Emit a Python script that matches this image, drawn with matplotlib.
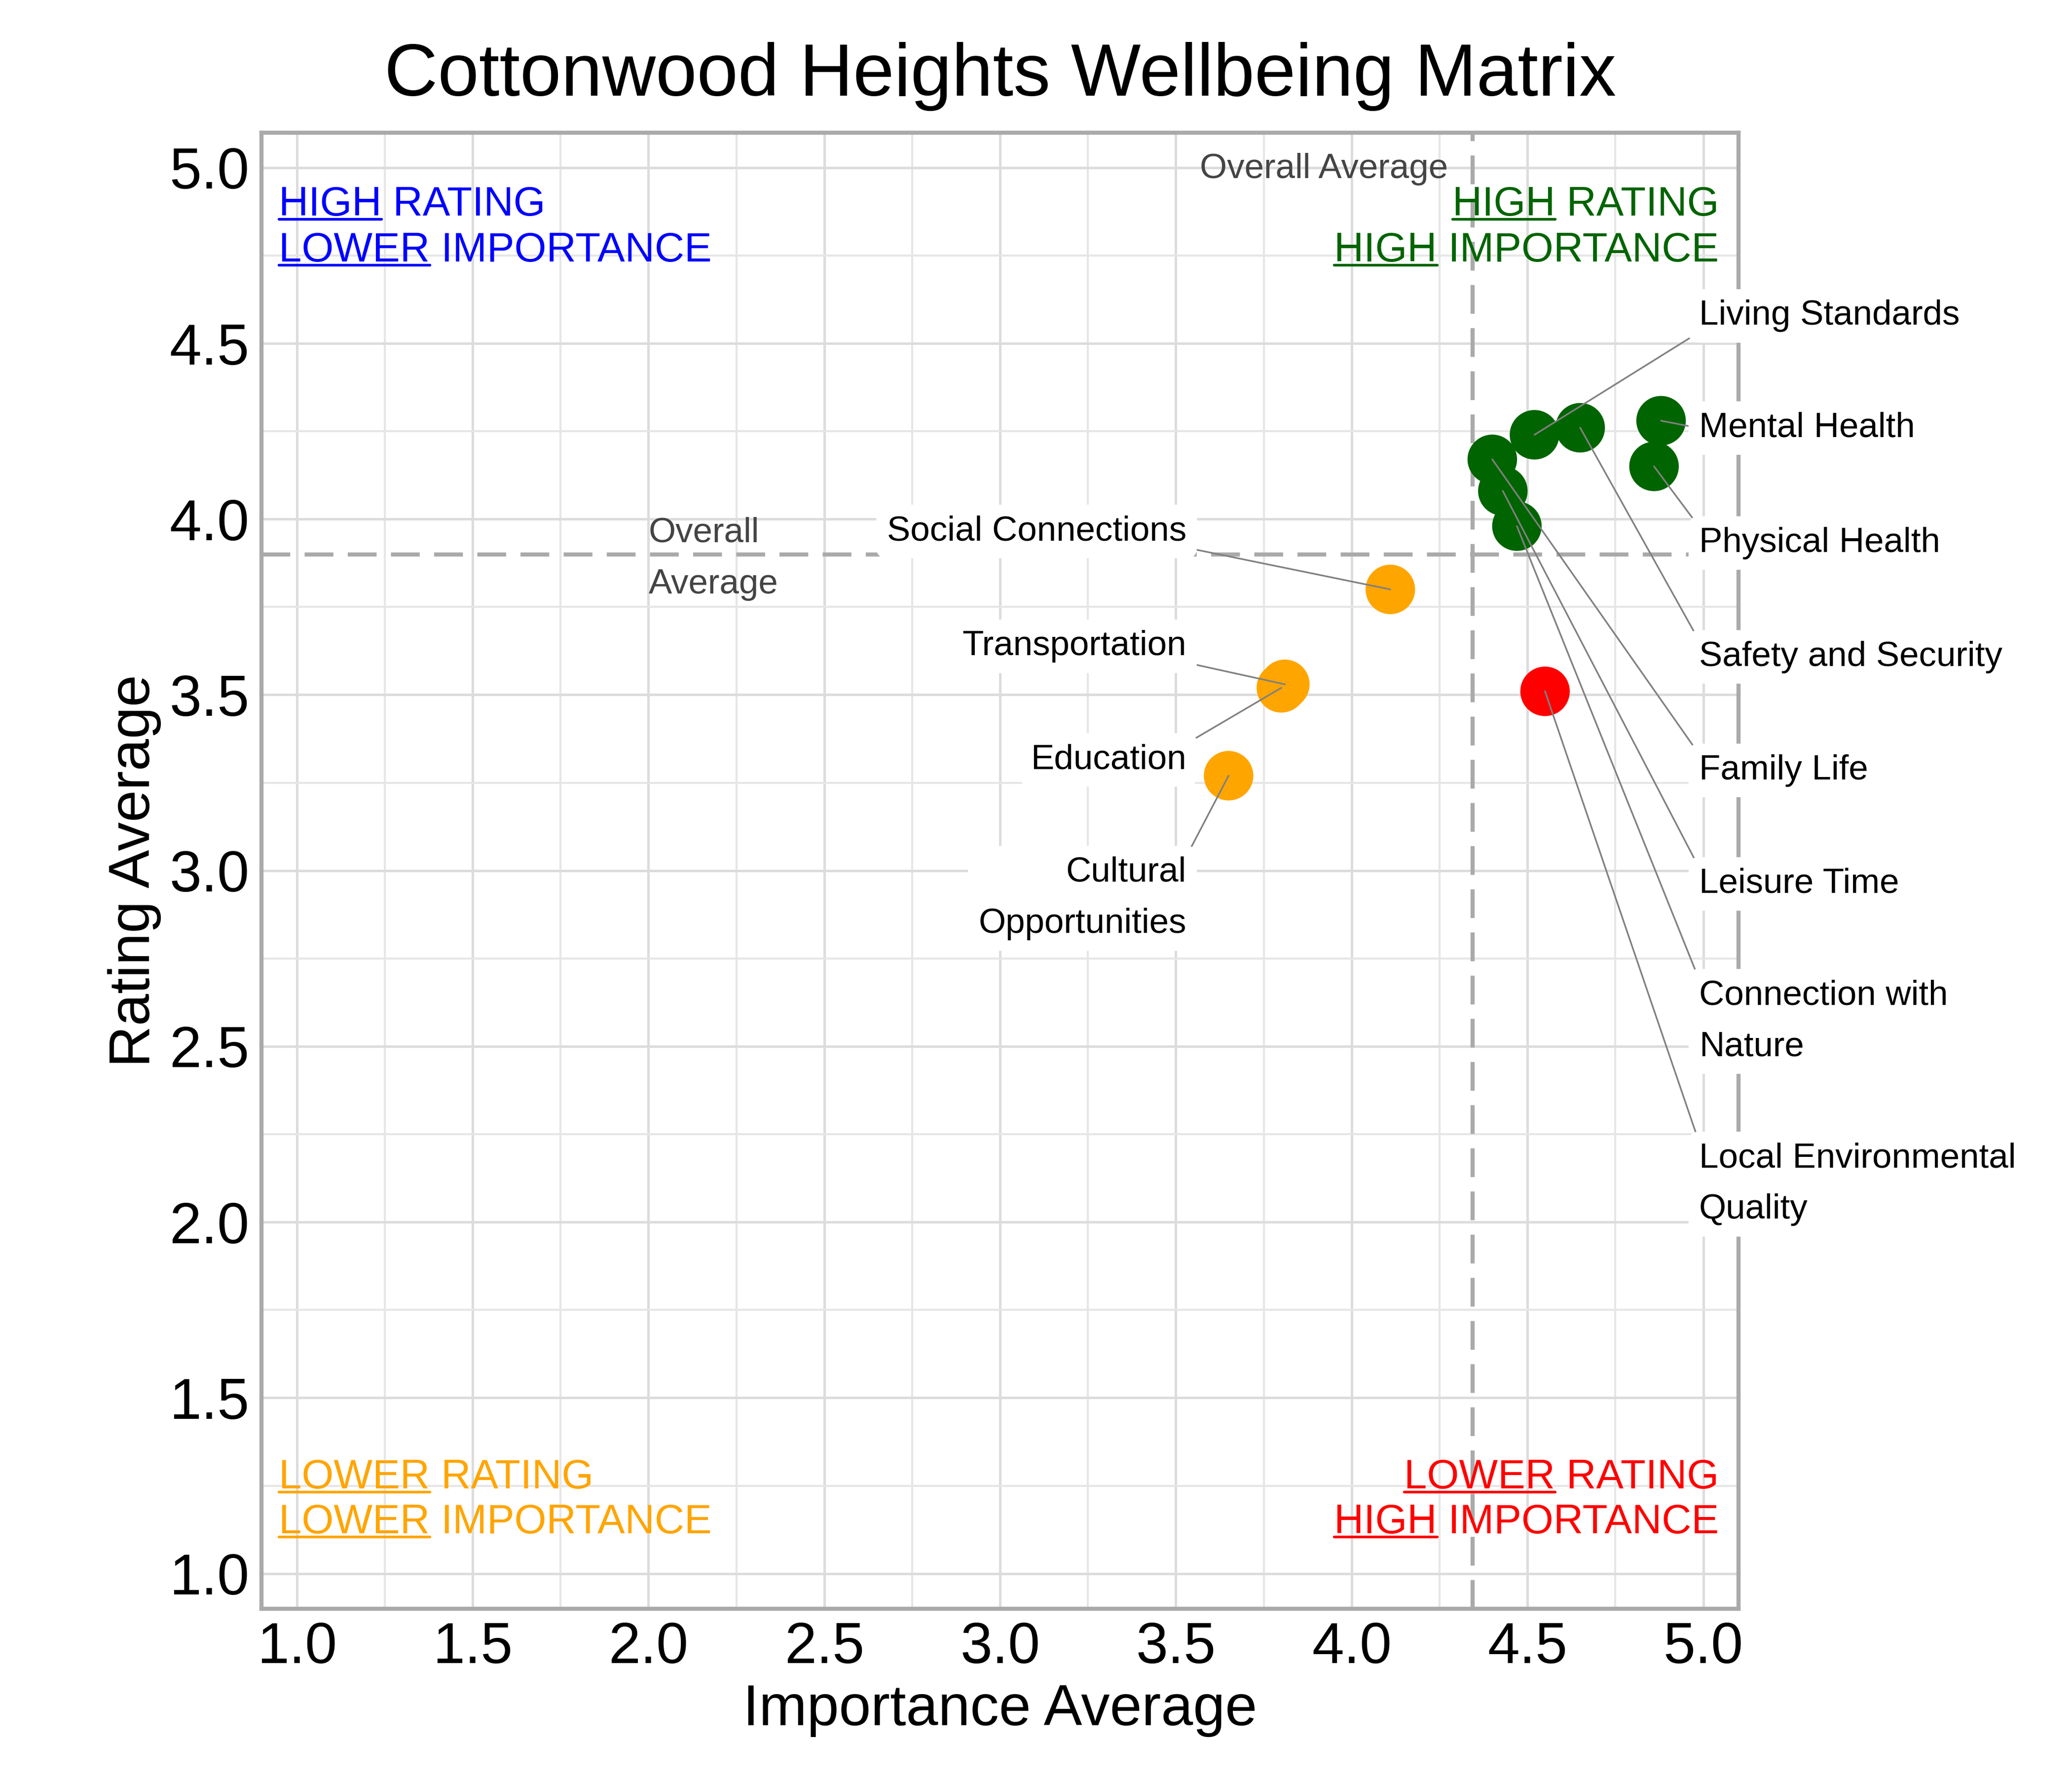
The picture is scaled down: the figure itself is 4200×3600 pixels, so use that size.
import matplotlib
matplotlib.use('Agg')
import matplotlib.pyplot as plt
from matplotlib.lines import Line2D
import numpy as np

plt.rcParams['font.family'] = ['Liberation Sans', 'DejaVu Sans']

# ---------------- data ----------------
categories = ['Living Standards', 'Safety and Security', 'Mental Health', 'Physical Health',
              'Family Life', 'Leisure Time', 'Connection with Nature',
              'Local Environmental Quality', 'Social Connections', 'Transportation',
              'Education', 'Cultural Opportunities']
label_text = ['Living Standards', 'Safety and Security', 'Mental Health', 'Physical Health',
              'Family Life', 'Leisure Time', 'Connection with\nNature',
              'Local Environmental\nQuality', 'Social Connections', 'Transportation',
              'Education', 'Cultural\nOpportunities']
importance = [4.52, 4.65, 4.88, 4.86, 4.40, 4.43, 4.47, 4.55, 4.11, 3.81, 3.80, 3.65]
rating = [4.24, 4.26, 4.28, 4.15, 4.17, 4.08, 3.98, 3.51, 3.80, 3.53, 3.52, 3.27]

# label layout (repelled positions)
label_side = ['R', 'R', 'R', 'R', 'R', 'R', 'R', 'R', 'L', 'L', 'L', 'L']
label_y = [4.578, 3.608, 4.259, 3.932, 3.285, 2.962, 2.571, 2.108, 3.965, 3.638, 3.315, 2.921]

tick_vals = [1.0, 1.5, 2.0, 2.5, 3.0, 3.5, 4.0, 4.5, 5.0]

quad_colors = {'HH': '#006400', 'LH': '#FF0000', 'LL': '#FFA500', 'HL': '#0000FF'}

avg_imp = float(np.mean(importance))
avg_rat = float(np.mean(rating))

colors = []
for imp, rat in zip(importance, rating):
    key = ('H' if rat >= avg_rat else 'L') + ('H' if imp >= avg_imp else 'L')
    colors.append(quad_colors[key])

# ---------------- figure ----------------
fig = plt.figure(figsize=(14, 12), dpi=300)
ax = fig.add_axes([0.1263, 0.0942, 0.7127, 0.8312])
ax.set_xlim(0.9, 5.1)
ax.set_ylim(0.9, 5.1)

ax.set_xticks(tick_vals)
ax.set_yticks(tick_vals)
ax.set_xticklabels([f'{v:.1f}' for v in tick_vals])
ax.set_yticklabels([f'{v:.1f}' for v in tick_vals])
ax.set_xticks(np.arange(1.25, 5.0, 0.5), minor=True)
ax.set_yticks(np.arange(1.25, 5.0, 0.5), minor=True)
ax.tick_params(which='both', length=0, labelsize=28, pad=6)
ax.grid(which='major', color='#dcdcdc', lw=1.2)
ax.grid(which='minor', color='#e6e6e6', lw=1.0)
ax.set_axisbelow(True)
for sp in ax.spines.values():
    sp.set_color('#aaaaaa')
    sp.set_linewidth(2)

ax.axvline(avg_imp, color='#aaaaaa', lw=2, ls=(0, (7, 3.5)), zorder=2)
ax.axhline(avg_rat, color='#aaaaaa', lw=2, ls=(0, (7, 3.5)), zorder=2)

ax.scatter(importance, rating, s=580, c=colors, edgecolors='none', zorder=4)

ax.text(avg_imp - 0.07, 4.995, 'Overall Average', ha='right', va='center',
        fontsize=17, color='#444444', zorder=3)
ax.text(2.0, avg_rat - 0.012, 'Overall\nAverage', ha='left', va='center', linespacing=1.75,
        fontsize=17, color='#444444', zorder=3)

for lab, xi, yi, side, ly in zip(label_text, importance, rating, label_side, label_y):
    lx = 4.988 if side == 'R' else 3.53
    rx = 0.0 if side == 'R' else 1.0
    if yi > ly + 0.06:
        ry = 1.0
    elif yi < ly - 0.06:
        ry = 0.0
    else:
        ry = 0.5
    ax.annotate(lab, xy=(xi, yi), xytext=(lx, ly), textcoords='data',
                ha='left' if side == 'R' else 'right', va='center',
                fontsize=17, linespacing=1.75, color='black',
                bbox=dict(boxstyle='round,pad=0.3', fc='white', ec='none'),
                arrowprops=dict(arrowstyle='-', color='#808080', lw=0.8,
                                shrinkA=0, shrinkB=0, relpos=(rx, ry)),
                zorder=6, annotation_clip=False)

ax.set_title('Cottonwood Heights Wellbeing Matrix', fontsize=36, pad=18)
ax.set_xlabel('Importance Average', fontsize=28, labelpad=4)
ax.set_ylabel('Rating Average', fontsize=28, labelpad=4)

# quadrant labels (underlined first word)
qxl, qxr = 0.948, 5.045
quad_lines = [
    ('HIGH', ' RATING', qxl, 4.863, 'left', quad_colors['HL']),
    ('LOWER', ' IMPORTANCE', qxl, 4.733, 'left', quad_colors['HL']),
    ('HIGH', ' RATING', qxr, 4.863, 'right', quad_colors['HH']),
    ('HIGH', ' IMPORTANCE', qxr, 4.733, 'right', quad_colors['HH']),
    ('LOWER', ' RATING', qxl, 1.2425, 'left', quad_colors['LL']),
    ('LOWER', ' IMPORTANCE', qxl, 1.115, 'left', quad_colors['LL']),
    ('LOWER', ' RATING', qxr, 1.2425, 'right', quad_colors['LH']),
    ('HIGH', ' IMPORTANCE', qxr, 1.115, 'right', quad_colors['LH']),
]
qtexts = []
for w1, rest, x, y, ha, col in quad_lines:
    t = ax.text(x, y, w1 + rest, ha=ha, va='baseline', fontsize=20, color=col, zorder=3)
    qtexts.append((t, w1, x, y, col))

fig.canvas.draw()
r = fig.canvas.get_renderer()
inv = ax.transData.inverted()
for t, w1, x, y, col in qtexts:
    bb = t.get_window_extent(r)
    tmp = ax.text(0, 0, w1, fontsize=20)
    wb = tmp.get_window_extent(r)
    tmp.remove()
    base = ax.transData.transform((x, y))
    yd = base[1] - 7
    x0d = bb.x0
    x1d = bb.x0 + wb.width
    (dx0, dy), (dx1, _) = inv.transform([(x0d, yd), (x1d, yd)])
    ax.add_line(Line2D([dx0, dx1], [dy, dy], color=col, lw=1.3,
                       solid_capstyle='round', clip_on=False, zorder=3))

fig.savefig('out.png', dpi=300)
